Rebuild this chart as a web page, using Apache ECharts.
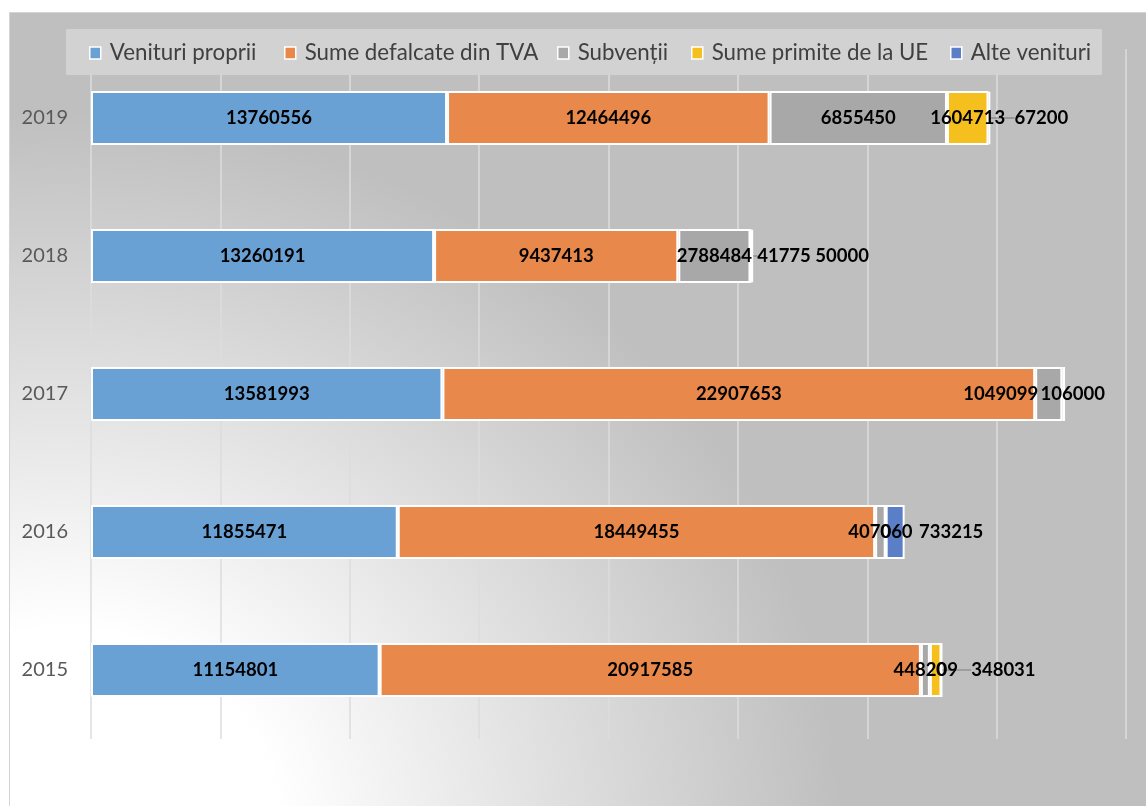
<!DOCTYPE html>
<html>
<head>
<meta charset="utf-8">
<script src="https://cdn.jsdelivr.net/npm/echarts@6/dist/echarts.min.js"></script>
<style>
  html, body { margin: 0; padding: 0; background: #fff; }
  #frame {
    position: absolute; left: 9px; top: 12px; width: 1150px; height: 800px;
    border: 1px solid #d4d4d4; box-sizing: border-box;
    background: radial-gradient(ellipse 780px 720px at 51px 818px, #ffffff 0%, #ffffff 28%, #bfbfbf 100%);
  }
  #chart { position: absolute; left: 0; top: 0; width: 1146px; height: 806px; }
</style>
</head>
<body>
<div id="frame"></div>
<div id="chart"></div>
<script>
// Budget revenue structure by year (lei)
const years = ['2015', '2016', '2017', '2018', '2019'];
const seriesNames = ['Venituri proprii', 'Sume defalcate din TVA', 'Subvenții', 'Sume primite de la UE', 'Alte venituri'];
const venituriProprii = [11154801, 11855471, 13581993, 13260191, 13760556];
const sumeDefalcate = [20917585, 18449455, 22907653, 9437413, 12464496];
const subventii = [348031, 407060, 1049099, 2788484, 6855450];
const sumeUE = [448209, 0, 106000, 41775, 1604713];
const alteVenituri = [0, 733215, null, 50000, 67200];

const seriesValues = [venituriProprii, sumeDefalcate, subventii, sumeUE, alteVenituri];
const colors = ['#6aa1d5', '#e8884a', '#a8a8a8', '#f5c01e', '#5a7fc6'];

// horizontal label nudges for crowded thin segments: [seriesIndex][dataIndex] -> [dx, guide line]
const labelShift = {
  2: { 0: [78, true], 2: [-48, false] },
  3: { 0: [-10, false], 2: [9, false], 3: [33, true] },
  4: { 1: [56, false], 3: [90, false], 4: [52, true] }
};
const legendLeft = [89, 284, 557, 691, 950];

const chart = echarts.init(document.getElementById('chart'), null, { renderer: 'canvas' });

const series = seriesValues.map((vals, si) => ({
  name: seriesNames[si],
  type: 'bar',
  stack: 'total',
  barWidth: 54,
  itemStyle: { color: colors[si], borderColor: '#ffffff', borderWidth: 2 },
  label: {
    show: true,
    position: 'inside',
    color: '#000000',
    fontFamily: 'Lato',
    fontWeight: 'bold',
    fontSize: 18.5,
    formatter: p => (p.value == null ? '' : String(p.value))
  },
  labelLine: { show: true, lineStyle: { color: '#7f7f7f', width: 1.2 } },
  labelLayout: params => {
    const s = labelShift[si] && labelShift[si][params.dataIndex];
    return s ? { dx: s[0], dy: 0 } : {};
  },
  data: vals.map((v, di) => {
    const s = labelShift[si] && labelShift[si][di];
    return { value: v, labelLine: { show: !!(s && s[1]) } };
  })
}));

const legends = seriesNames.map((n, i) => ({
  data: [n],
  left: legendLeft[i],
  top: 42,
  padding: 0,
  icon: 'rect',
  itemWidth: 11,
  itemHeight: 12,
  itemStyle: { borderColor: '#ffffff', borderWidth: 1.5 },
  textStyle: { color: '#404040', fontFamily: 'Lato', fontSize: 22.3, padding: [0, 0, 0, 4] },
  selectedMode: false,
  z: 10
}));

chart.setOption({
  animation: false,
  backgroundColor: 'transparent',
  color: colors,
  graphic: [{
    type: 'rect',
    shape: { x: 66, y: 29, width: 1036, height: 46 },
    style: { fill: '#d2d2d2' },
    z: 5
  }],
  legend: legends,
  grid: { left: 91, right: 20, top: 49, bottom: 67, containLabel: false },
  xAxis: {
    type: 'value',
    min: 0,
    max: 40000000,
    interval: 5000000,
    axisLabel: { show: false },
    axisLine: { show: false },
    axisTick: { show: false },
    splitLine: { show: true, lineStyle: { color: '#dcdcdc', width: 1.5 } }
  },
  yAxis: {
    type: 'category',
    data: years,
    axisLine: { show: false },
    axisTick: { show: false },
    axisLabel: { color: '#595959', fontFamily: 'Lato', fontSize: 20, margin: 23 }
  },
  series: series
});
</script>
</body>
</html>
